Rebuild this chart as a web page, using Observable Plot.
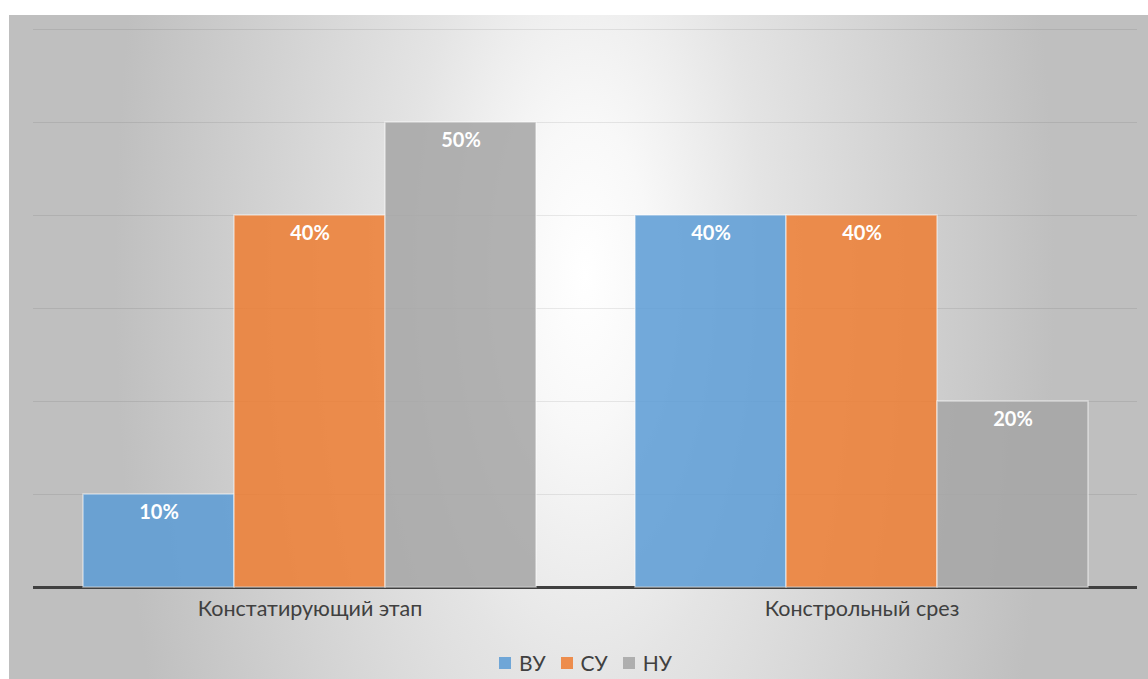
<!DOCTYPE html>
<html>
<head>
<meta charset="utf-8">
<script src="https://cdn.jsdelivr.net/npm/d3@7"></script>
<script src="https://cdn.jsdelivr.net/npm/@observablehq/plot@0.6"></script>
<style>
  html, body { margin: 0; padding: 0; background: #ffffff; }
  #frame {
    position: absolute; left: 9px; top: 15px; width: 1139px; height: 664px; overflow: hidden;
    background: radial-gradient(ellipse 470px 1100px at 576px 260px, #ffffff 0%, #f8f8f8 14%, #e4e4e4 38%, #cbcbcb 80%, #bfbfbf 100%);
    background-color: #bfbfbf;
    font-family: Lato, "Open Sans", sans-serif;
  }
  .layer { position: absolute; left: 0; top: 0; }
  #legend {
    position: absolute; left: 0; top: 635px; width: 1139px; display: flex; justify-content: center;
    padding-left: 14px; box-sizing: border-box;
    font-family: Lato, sans-serif; font-size: 21px; color: #404040; gap: 15px; align-items: center;
  }
  #legend .item { display: flex; align-items: center; gap: 8px; }
  #legend .sw { width: 12px; height: 12px; display: inline-block; }
</style>
</head>
<body>
<div id="frame">
  <div id="grid" class="layer"></div>
  <div id="chart" class="layer"></div>
  <div id="legend"></div>
</div>
<script>
const groups = ["Констатирующий этап", "Констрольный срез"];
const series = ["ВУ", "СУ", "НУ"];
const valuesStage1 = [10, 40, 50];
const valuesStage2 = [40, 40, 20];
const colors = ["#5B9BD5", "#ED7D31", "#A5A5A5"];
const gridTicks = [10, 20, 30, 40, 50, 60];

const data = [];
series.forEach((s, i) => data.push({group: groups[0], series: s, value: valuesStage1[i]}));
series.forEach((s, i) => data.push({group: groups[1], series: s, value: valuesStage2[i]}));

const common = {
  width: 1139,
  height: 620,
  marginLeft: 24,
  marginRight: 11,
  marginTop: 14,
  marginBottom: 48,
  style: {background: "transparent", fontFamily: "Lato, sans-serif", fontSize: "21.5px", color: "#404040"},
  y: {domain: [0, 60], axis: null}
};

// background layer: gridlines and baseline across the whole plot area
const gridPlot = Plot.plot({
  ...common,
  marks: [
    Plot.ruleY(gridTicks, {stroke: "#000", strokeOpacity: 0.08}),
    Plot.ruleY([0], {stroke: "#404040", strokeWidth: 3})
  ]
});
document.getElementById("grid").appendChild(gridPlot);

const chart = Plot.plot({
  ...common,
  fx: {domain: groups, paddingInner: 0.18, paddingOuter: 0.09, label: null, tickSize: 0, tickPadding: 13},
  x: {domain: series, padding: 0, axis: null},
  color: {domain: series, range: colors},
  marks: [
    Plot.barY(data, {fx: "group", x: "series", y: "value", fill: "series", fillOpacity: 0.85,
      stroke: "white", strokeOpacity: 0.5, strokeWidth: 1.5}),
    Plot.text(data, {fx: "group", x: "series", y: "value", text: d => d.value + "%", dy: 18,
      fill: "white", fontWeight: "bold", fontSize: 20})
  ]
});
document.getElementById("chart").appendChild(chart);

const legend = document.getElementById("legend");
series.forEach((s, i) => {
  const item = document.createElement("span");
  item.className = "item";
  const sw = document.createElement("span");
  sw.className = "sw";
  sw.style.background = colors[i];
  sw.style.opacity = 0.85;
  const t = document.createElement("span");
  t.textContent = s;
  item.appendChild(sw); item.appendChild(t);
  legend.appendChild(item);
});
</script>
</body>
</html>
